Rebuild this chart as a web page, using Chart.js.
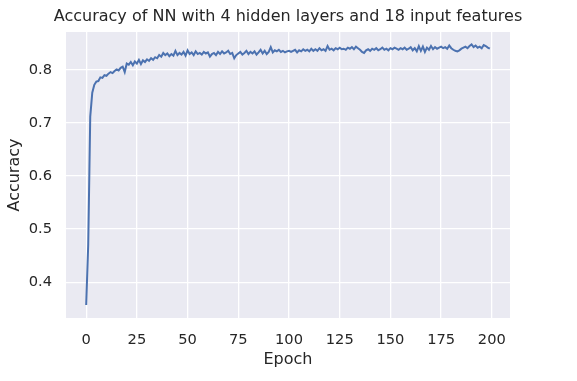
<!DOCTYPE html>
<html>
<head>
<meta charset="utf-8">
<script src="https://cdn.jsdelivr.net/npm/chart.js@4"></script>
<style>
  html, body { margin: 0; padding: 0; background: #ffffff; }
  #wrap { width: 577px; height: 381px; }
</style>
</head>
<body>
<div id="wrap"><canvas id="c" width="577" height="381"></canvas></div>
<script>
const chartTitle = "Accuracy of NN with 4 hidden layers and 18 input features";
const xLabel = "Epoch";
const yLabel = "Accuracy";
const xTicks = [0, 25, 50, 75, 100, 125, 150, 175, 200];
const yTicks = [0.4, 0.5, 0.6, 0.7, 0.8];

const accuracy = [
  0.357, 0.470, 0.712, 0.757, 0.772, 0.778, 0.779, 0.786, 0.785, 0.790,
  0.789, 0.793, 0.796, 0.794, 0.798, 0.801, 0.799, 0.804, 0.806, 0.796,
  0.812, 0.810, 0.815, 0.809, 0.816, 0.812, 0.819, 0.811, 0.818, 0.815,
  0.820, 0.817, 0.822, 0.819, 0.824, 0.822, 0.828, 0.825, 0.832, 0.828,
  0.831, 0.826, 0.830, 0.827, 0.836, 0.828, 0.832, 0.829, 0.834, 0.827,
  0.837, 0.830, 0.833, 0.828, 0.835, 0.830, 0.832, 0.829, 0.834, 0.831,
  0.833, 0.825, 0.830, 0.832, 0.828, 0.834, 0.830, 0.835, 0.831, 0.833,
  0.836, 0.830, 0.832, 0.822, 0.828, 0.831, 0.834, 0.829, 0.832, 0.836,
  0.830, 0.834, 0.831, 0.835, 0.829, 0.833, 0.838, 0.831, 0.836, 0.830,
  0.834, 0.843, 0.833, 0.837, 0.835, 0.838, 0.834, 0.836, 0.833, 0.835,
  0.836, 0.834, 0.836, 0.838, 0.833, 0.837, 0.835, 0.839, 0.836, 0.838,
  0.835, 0.840, 0.836, 0.839, 0.836, 0.841, 0.837, 0.839, 0.836, 0.845,
  0.838, 0.840, 0.837, 0.841, 0.839, 0.842, 0.839, 0.840, 0.838, 0.842,
  0.840, 0.843, 0.839, 0.844, 0.841, 0.838, 0.834, 0.832, 0.837, 0.839,
  0.836, 0.840, 0.838, 0.841, 0.837, 0.839, 0.842, 0.838, 0.840, 0.837,
  0.841, 0.839, 0.842, 0.840, 0.838, 0.841, 0.839, 0.842, 0.838, 0.840,
  0.843, 0.837, 0.841, 0.835, 0.845, 0.836, 0.844, 0.834, 0.842, 0.838,
  0.845, 0.839, 0.843, 0.840, 0.842, 0.844, 0.841, 0.843, 0.840, 0.846,
  0.841, 0.838, 0.836, 0.835, 0.837, 0.840, 0.842, 0.844, 0.841, 0.845,
  0.848, 0.843, 0.846, 0.842, 0.844, 0.841, 0.847, 0.845, 0.842, 0.840
];
const epochs = accuracy.map((_, i) => i);

const textColor = '#262626';
const fam = "'DejaVu Sans', sans-serif";

const plotBg = {
  id: 'plotBg',
  beforeDraw(chart) {
    const {ctx, chartArea: a} = chart;
    ctx.save();
    ctx.fillStyle = '#EAEAF2';
    ctx.fillRect(a.left, a.top, a.right - a.left, a.bottom - a.top);
    ctx.restore();
  },
  afterDraw(chart) {
    const {ctx, chartArea: a} = chart;
    ctx.save();
    ctx.fillStyle = textColor;
    ctx.font = "16px " + fam;
    ctx.textAlign = 'center';
    ctx.textBaseline = 'middle';
    ctx.fillText(chartTitle, (a.left + a.right) / 2, 16.6);
    ctx.restore();
  }
};

new Chart(document.getElementById('c'), {
  type: 'line',
  data: {
    datasets: [{
      data: epochs.map((e, i) => ({ x: e, y: accuracy[i] })),
      borderColor: '#4C72B0',
      borderWidth: 2,
      pointRadius: 0,
      tension: 0,
      fill: false
    }]
  },
  options: {
    responsive: false,
    animation: false,
    devicePixelRatio: 1,
    layout: { padding: { left: 0, right: 67, top: 32, bottom: 0 } },
    plugins: {
      legend: { display: false },
      tooltip: { enabled: false },
      title: { display: false }
    },
    scales: {
      x: {
        type: 'linear',
        min: -9.95,
        max: 208.95,
        afterBuildTicks(scale) { scale.ticks = xTicks.map(v => ({ value: v })); },
        afterFit(scale) { scale.height = 63; },
        ticks: {
          color: textColor,
          font: { family: fam, size: 14.67 },
          padding: 13.5,
          maxRotation: 0,
          autoSkip: false,
          callback: v => String(v)
        },
        grid: { color: '#ffffff', lineWidth: 1.3, drawTicks: false },
        border: { display: false },
        title: {
          display: true,
          text: xLabel,
          color: textColor,
          font: { family: fam, size: 16 },
          padding: { top: 0, bottom: 12 }
        }
      },
      y: {
        type: 'linear',
        min: 0.3325,
        max: 0.8715,
        afterBuildTicks(scale) { scale.ticks = yTicks.map(v => ({ value: v })); },
        afterFit(scale) { scale.width = 66; },
        ticks: {
          color: textColor,
          font: { family: fam, size: 14.67 },
          padding: 14,
          autoSkip: false,
          callback: v => v.toFixed(1)
        },
        grid: { color: '#ffffff', lineWidth: 1.3, drawTicks: false },
        border: { display: false },
        title: {
          display: true,
          text: yLabel,
          color: textColor,
          font: { family: fam, size: 16 },
          padding: { top: 5, bottom: 0 }
        }
      }
    }
  },
  plugins: [plotBg]
});
</script>
</body>
</html>
